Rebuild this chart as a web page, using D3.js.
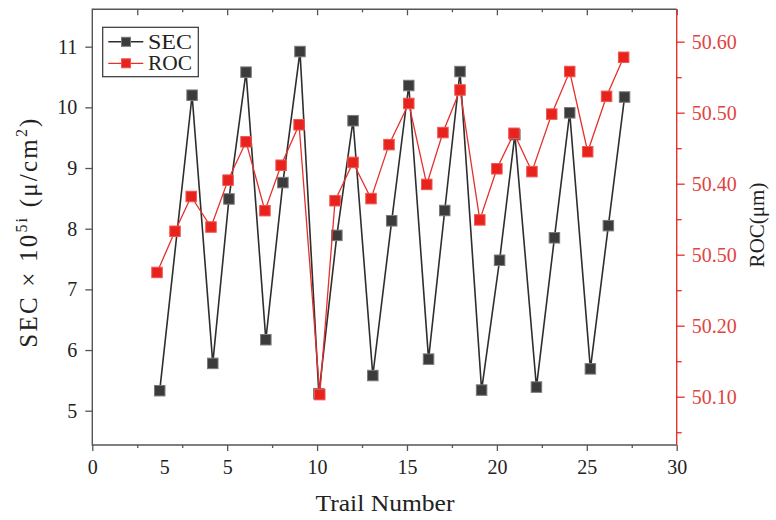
<!DOCTYPE html>
<html>
<head>
<meta charset="utf-8">
<script src="https://cdn.jsdelivr.net/npm/d3@7/dist/d3.min.js"></script>
<style>
  html, body { margin: 0; padding: 0; background: #fff; }
  svg { display: block; }
</style>
</head>
<body>
<svg id="chart" width="776" height="520"></svg>
<script>
// ---------------- data ----------------
const secTrail  = [1.25, 3.05, 4.2, 5.1, 6.05, 7.15, 8.1, 9.05, 10.1, 11.1, 12.0, 13.1, 14.15, 15.1, 16.2, 17.1, 17.95, 19.15, 20.15, 21.0, 22.2, 23.2, 24.05, 25.2, 26.2, 27.1];
const secValues = [5.33, 10.20, 5.78, 8.49, 10.58, 6.17, 8.76, 10.92, 5.28, 7.89, 9.78, 5.58, 8.13, 10.36, 5.85, 8.30, 10.59, 5.34, 7.48, 9.55, 5.39, 7.85, 9.91, 5.69, 8.05, 10.17];

const rocTrail  = [1.1, 2.1, 3.0, 4.1, 5.05, 6.05, 7.1, 8.0, 9.0, 10.15, 11.0, 12.0, 13.0, 14.0, 15.1, 16.1, 17.0, 17.95, 19.05, 20.0, 20.95, 21.95, 23.05, 24.05, 25.05, 26.1, 27.05];
const rocValues = [50.275, 50.333, 50.382, 50.339, 50.405, 50.459, 50.362, 50.426, 50.483, 50.103, 50.376, 50.430, 50.379, 50.455, 50.513, 50.399, 50.472, 50.532, 50.349, 50.421, 50.471, 50.417, 50.498, 50.558, 50.445, 50.523, 50.578];

// x tick labels as printed on the reference (bottom axis)
const xLabelValues = [-2.5, 1.5, 5, 10, 15, 20, 25, 30];
const xTickLabels  = ["0", "5", "5", "10", "15", "20", "25", "30"];
const xMinorBottom = [0, 2.5, 7.5, 12.5, 17.5, 22.5, 27.5];
const xMajorTop    = [0, 5, 10, 15, 20, 25, 30];
const xMinorTop    = [2.5, 7.5, 12.5, 17.5, 22.5, 27.5];

const secTicks = [5, 6, 7, 8, 9, 10, 11];
const rocTicks = [50.1, 50.2, 50.3, 50.4, 50.5, 50.6];
const rocTickLabels = ["50.10", "50.20", "50.50", "50.40", "50.50", "50.60"];
const rocMinor = [50.05, 50.15, 50.25, 50.35, 50.45, 50.55];

const seriesNames = ["SEC", "ROC"];

// ---------------- layout ----------------
const L = 92.3, R = 676.7, T = 9.3, B = 445;
const FONT = "'Liberation Serif', 'Times New Roman', serif";
const AXIS_GRAY = "#555";
const RED = "#e5302c";
const RED_TEXT = "#e0443f";

const svg = d3.select("#chart");

const x = d3.scaleLinear().domain([-2.5, 30]).range([L, R]);
const yL = d3.scaleLinear().domain([4.435, 11.616]).range([B, T]);
const yR = d3.scaleLinear().domain([50.032, 50.6456]).range([B, T]);

// ---------------- axes ----------------
function styleAxis(g, color) {
  g.select(".domain").remove();
  g.selectAll(".tick line").attr("stroke", color).attr("stroke-width", 1.3);
  g.selectAll(".tick text").attr("fill", color === RED ? RED_TEXT : "#222")
    .style("font-family", FONT);
}

// bottom major + labels
const gB = svg.append("g").attr("transform", `translate(0,${B})`)
  .call(d3.axisBottom(x).tickValues(xLabelValues).tickSize(6).tickSizeOuter(0)
    .tickPadding(9)
    .tickFormat((d, i) => xTickLabels[i]));
styleAxis(gB, AXIS_GRAY);
gB.selectAll(".tick text").style("font-size", "20px");
gB.selectAll(".tick").filter(d => d === 1.5).select("line").remove();

// bottom minor
const gBm = svg.append("g").attr("transform", `translate(0,${B})`)
  .call(d3.axisBottom(x).tickValues(xMinorBottom).tickSize(3).tickFormat(""));
styleAxis(gBm, AXIS_GRAY);

// top (inward ticks)
const gT = svg.append("g").attr("transform", `translate(0,${T})`)
  .call(d3.axisTop(x).tickValues(xMajorTop).tickSize(-6).tickFormat(""));
styleAxis(gT, AXIS_GRAY);
const gTm = svg.append("g").attr("transform", `translate(0,${T})`)
  .call(d3.axisTop(x).tickValues(xMinorTop).tickSize(-3).tickFormat(""));
styleAxis(gTm, AXIS_GRAY);

// left
const gL = svg.append("g").attr("transform", `translate(${L},0)`)
  .call(d3.axisLeft(yL).tickValues(secTicks).tickSize(7).tickPadding(8).tickFormat(d3.format("d")));
styleAxis(gL, AXIS_GRAY);
gL.selectAll(".tick text").style("font-size", "20px");

// right (red)
const gR = svg.append("g").attr("transform", `translate(${R},0)`)
  .call(d3.axisRight(yR).tickValues(rocTicks).tickSize(8).tickPadding(7)
    .tickFormat((d, i) => rocTickLabels[i]));
styleAxis(gR, RED);
gR.selectAll(".tick text").style("font-size", "20px");
const gRm = svg.append("g").attr("transform", `translate(${R},0)`)
  .call(d3.axisRight(yR).tickValues(rocMinor).tickSize(5).tickFormat(""));
styleAxis(gRm, RED);

// frame
svg.append("path")
  .attr("d", `M${R},${T}H${L}V${B}H${R}`)
  .attr("fill", "none").attr("stroke", AXIS_GRAY).attr("stroke-width", 1.4);
svg.append("line")
  .attr("x1", R).attr("x2", R).attr("y1", T).attr("y2", B)
  .attr("stroke", RED).attr("stroke-width", 1.4);

// ---------------- series ----------------
const secData = secTrail.map((t, i) => ({ t, v: secValues[i] }));
const rocData = rocTrail.map((t, i) => ({ t, v: rocValues[i] }));

const MS = 10.5;

svg.append("path")
  .datum(secData)
  .attr("fill", "none").attr("stroke", "#2e2e2e").attr("stroke-width", 1.6)
  .attr("d", d3.line().x(d => x(d.t)).y(d => yL(d.v)));
svg.append("g").selectAll("rect").data(secData).join("rect")
  .attr("x", d => x(d.t) - MS / 2).attr("y", d => yL(d.v) - MS / 2)
  .attr("width", MS).attr("height", MS)
  .attr("fill", "#3b3b3b").attr("stroke", "#7a7a7a").attr("stroke-width", 1);

svg.append("path")
  .datum(rocData)
  .attr("fill", "none").attr("stroke", RED).attr("stroke-width", 1.3)
  .attr("d", d3.line().x(d => x(d.t)).y(d => yR(d.v)));
svg.append("g").selectAll("rect").data(rocData).join("rect")
  .attr("x", d => x(d.t) - MS / 2).attr("y", d => yR(d.v) - MS / 2)
  .attr("width", MS).attr("height", MS)
  .attr("fill", "#e8221d").attr("stroke", "#f0574f").attr("stroke-width", 1);

// ---------------- legend ----------------
const lg = svg.append("g");
lg.append("rect").attr("x", 102.7).attr("y", 27.3).attr("width", 95.6).attr("height", 49.4)
  .attr("fill", "#fff").attr("stroke", "#333").attr("stroke-width", 1.2);
const legendColors = [["#2e2e2e", "#3b3b3b", "#7a7a7a"], [RED, "#e8221d", "#f0574f"]];
seriesNames.forEach((name, i) => {
  const cy = 41.8 + i * 21.5;
  lg.append("line").attr("x1", 108.3).attr("x2", 143.3).attr("y1", cy).attr("y2", cy)
    .attr("stroke", legendColors[i][0]).attr("stroke-width", i === 0 ? 1.6 : 1.3);
  lg.append("rect").attr("x", 126 - 4.5).attr("y", cy - 4.5).attr("width", 9).attr("height", 9)
    .attr("fill", legendColors[i][1]).attr("stroke", legendColors[i][2]).attr("stroke-width", 1);
  lg.append("text").attr("x", 148).attr("y", cy + 6.8)
    .style("font-family", FONT).style("font-size", "20px").attr("fill", "#222")
    .attr("textLength", 44).attr("lengthAdjust", "spacingAndGlyphs")
    .text(name);
});

// ---------------- axis titles ----------------
svg.append("text")
  .attr("x", 385).attr("y", 511).attr("text-anchor", "middle")
  .style("font-family", FONT).style("font-size", "23px").attr("fill", "#222")
  .attr("textLength", 139).attr("lengthAdjust", "spacingAndGlyphs")
  .text("Trail Number");

const lt = svg.append("text")
  .attr("transform", "translate(37,232) rotate(-90)")
  .attr("text-anchor", "middle")
  .style("font-family", FONT).style("font-size", "25px").attr("fill", "#222")
  .style("letter-spacing", "2.2px");
lt.append("tspan").text("SEC × 10");
lt.append("tspan").attr("dy", -10).style("font-size", "16px").text("5i");
lt.append("tspan").attr("dy", 10).text(" (μ/cm");
lt.append("tspan").attr("dy", -10).style("font-size", "16px").text("2");
lt.append("tspan").attr("dy", 10).text(")");

svg.append("text")
  .attr("transform", "translate(764,225) rotate(-90)")
  .attr("text-anchor", "middle")
  .style("font-family", FONT).style("font-size", "21px").attr("fill", "#222")
  .text("ROC(μm)");
</script>
</body>
</html>
